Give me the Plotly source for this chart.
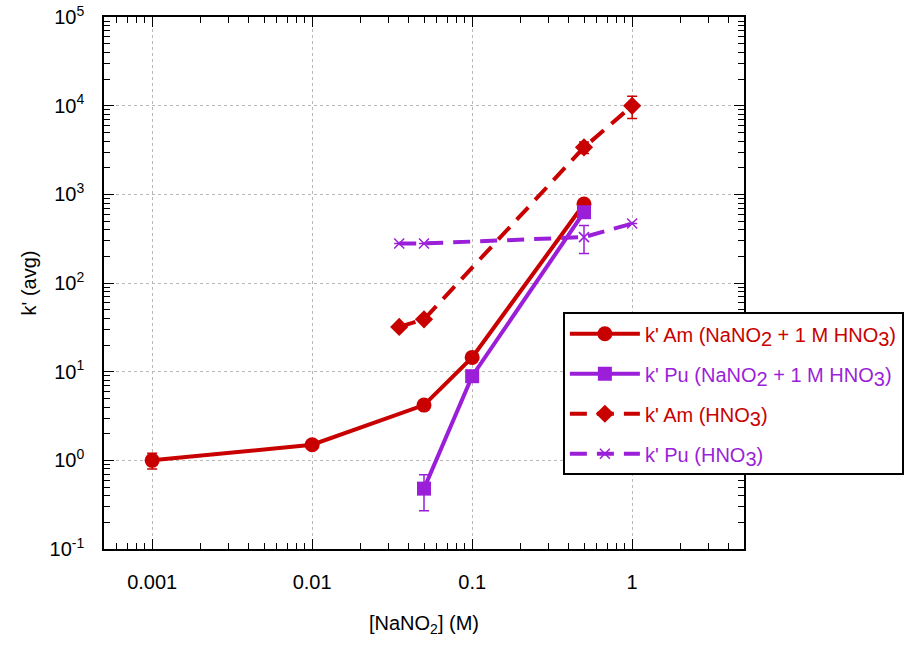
import plotly.graph_objects as go

RED = "#C80000"
PUR = "#9B1FD9"

# k' Am (NaNO2 + 1 M HNO3)
am_nano2_x = [0.001, 0.01, 0.05, 0.1, 0.5]
am_nano2_y = [1.0, 1.5, 4.2, 14.5, 780]
am_nano2_err = [0.2, 0.0, 0.0, 0.0, 0.0]

# k' Pu (NaNO2 + 1 M HNO3)
pu_nano2_x = [0.05, 0.1, 0.5]
pu_nano2_y = [0.48, 8.9, 630]
pu_nano2_err = [0.21, 0.0, 0.0]

# k' Am (HNO3)
am_hno3_x = [0.035, 0.05, 0.5, 1.0]
am_hno3_y = [32, 39, 3400, 10000]
am_hno3_err = [0.0, 0.0, 500, 2800]

# k' Pu (HNO3)
pu_hno3_x = [0.035, 0.05, 0.5, 1.0]
pu_hno3_y = [280, 280, 330, 470]
pu_hno3_err = [0.0, 0.0, 115, 0.0]

x_tickvals = [0.001, 0.01, 0.1, 1]
x_ticktext = ["0.001", "0.01", "0.1", "1"]
y_tickvals = [0.1, 1, 10, 100, 1000, 10000, 100000]
y_ticktext = ["10<sup>-1</sup>", "10<sup>0</sup>", "10<sup>1</sup>", "10<sup>2</sup>",
              "10<sup>3</sup>", "10<sup>4</sup>", "10<sup>5</sup>"]

# minor tick positions (2..9 within each decade)
x_minor = [m * d for d in [0.0001, 0.001, 0.01, 0.1, 1] for m in range(2, 10)]
y_minor = [m * d for d in [0.1, 1, 10, 100, 1000, 10000] for m in range(2, 10)]

X_RANGE = [-3.301, 0.699]
Y_RANGE = [-1, 5.002]
FS = 20


def sub(t):
    return f"<sub><span style='font-size:{FS}px'>{t}</span></sub>"


fig = go.Figure()


def add(x, y, err, name, color, symbol, dash, msize, mline=0, grp="g"):
    fig.add_trace(go.Scatter(
        x=x, y=y, name=f"<span style='color:{color}'>{name}</span>",
        mode="lines+markers", legendgroup=grp,
        line=dict(color=color, width=4, dash=dash),
        marker=dict(color=color, symbol=symbol, size=msize,
                    line=dict(color=color, width=mline)),
        error_y=dict(type="data", array=err, visible=True, color=color,
                     thickness=1.5, width=5),
    ))


add(am_nano2_x, am_nano2_y, am_nano2_err,
    f"k' Am (NaNO{sub(2)} + 1 M HNO{sub(3)})", RED, "circle", "solid", 15, grp="a")
add(pu_nano2_x, pu_nano2_y, pu_nano2_err,
    f"k' Pu (NaNO{sub(2)} + 1 M HNO{sub(3)})", PUR, "square", "solid", 14, grp="b")
add(am_hno3_x, am_hno3_y, am_hno3_err,
    f"k' Am (HNO{sub(3)})", RED, "diamond", "17px,10px", 14, grp="c")
add(pu_hno3_x, pu_hno3_y, pu_hno3_err,
    f"k' Pu (HNO{sub(3)})", PUR, "x-thin", "17px,10px", 10, 1.5, grp="d")

# invisible trace on the minor-tick overlay axes so they are drawn
fig.add_trace(go.Scatter(x=[x_tickvals[0]], y=[y_tickvals[1]], xaxis="x2", yaxis="y2",
                         mode="markers", marker=dict(opacity=0), showlegend=False,
                         hoverinfo="skip"))

font_tick = dict(family="Liberation Sans, Arial", size=FS, color="black")

fig.update_layout(
    width=916, height=650,
    margin=dict(l=104, r=169, t=17, b=101),
    paper_bgcolor="white", plot_bgcolor="white",
    font=dict(family="Liberation Sans, Arial", color="black"),
    xaxis=dict(type="log", range=X_RANGE, tickmode="array", tickvals=x_tickvals,
               ticktext=x_ticktext, automargin=False,
               showline=True, linecolor="black", linewidth=1.5, mirror="ticks",
               ticks="inside", ticklen=10, tickcolor="black", tickwidth=1,
               showgrid=True, gridcolor="#b8b8b8", griddash="dot", gridwidth=1,
               zeroline=False, tickfont=font_tick, ticklabelstandoff=14,
               ticklabeloverflow="allow",
               title=dict(text="[NaNO<sub>2</sub>] (M)", font=dict(size=FS), standoff=24)),
    yaxis=dict(type="log", range=Y_RANGE, tickmode="array", tickvals=y_tickvals,
               ticktext=y_ticktext, automargin=False,
               showline=True, linecolor="black", linewidth=1.5, mirror="ticks",
               ticks="inside", ticklen=10, tickcolor="black", tickwidth=1,
               showgrid=True, gridcolor="#b8b8b8", griddash="dot", gridwidth=1,
               zeroline=False, tickfont=font_tick, ticklabelstandoff=14,
               ticklabeloverflow="allow",
               title=dict(text="k' (avg)", font=dict(size=FS), standoff=8)),
    xaxis2=dict(type="log", range=X_RANGE, overlaying="x", side="bottom",
                tickmode="array", tickvals=x_minor, showticklabels=False,
                ticks="inside", ticklen=6, tickcolor="black", tickwidth=1,
                mirror="ticks", showline=False, showgrid=False, zeroline=False,
                automargin=False),
    yaxis2=dict(type="log", range=Y_RANGE, overlaying="y", side="left",
                tickmode="array", tickvals=y_minor, showticklabels=False,
                ticks="inside", ticklen=6, tickcolor="black", tickwidth=1,
                mirror="ticks", showline=False, showgrid=False, zeroline=False,
                automargin=False),
    showlegend=True,
    legend=dict(x=0.717, y=0.445, xanchor="left", yanchor="top",
                bgcolor="white", bordercolor="black", borderwidth=2,
                font=dict(size=FS), tracegroupgap=11, itemwidth=70,
                traceorder="grouped"),
)

# remove the browser's default 8px body margin so the figure fills the window
fig.write_html("out.html",
               config={"displayModeBar": False},
               post_script="document.body.style.margin='0';document.body.style.overflow='hidden';")
